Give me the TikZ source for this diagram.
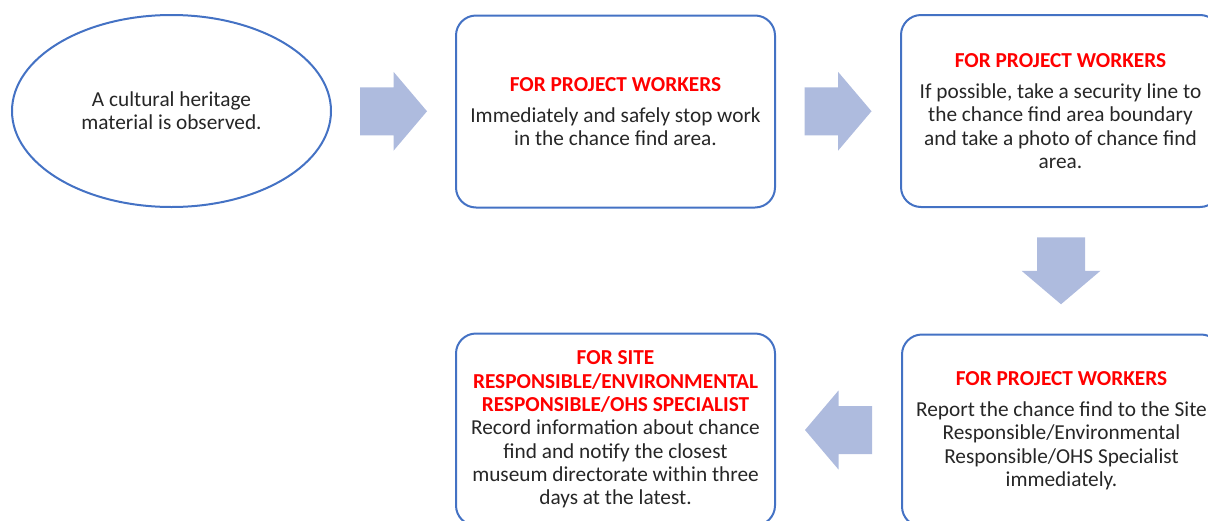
\documentclass[tikz,border=0pt]{standalone}
\usepackage{fontspec}
\setmainfont{Carlito}
\usetikzlibrary{shapes.geometric,calc}
\definecolor{edgeblue}{RGB}{68,114,196}
\definecolor{arrowfill}{RGB}{174,187,222}
\definecolor{headred}{RGB}{255,0,0}
\definecolor{bodytext}{RGB}{38,38,38}
\newcommand{\headtxt}[1]{\textcolor{headred}{\bfseries #1}}
\tikzset{
  basetext/.style={align=center, text=bodytext, font=\fontsize{21.3}{23.3}\selectfont, inner sep=0pt},
  stepbox/.style={basetext, draw=edgeblue, line width=2pt, rounded corners=20pt,
    minimum width=319pt, minimum height=192pt},
  startoval/.style={basetext, ellipse, draw=edgeblue, line width=2pt,
    minimum width=319pt, minimum height=192pt},
  blockarrow/.pic={\fill[arrowfill] (-33.5,-24) -- (0,-24) -- (0,-39.5) -- (33.5,0)
    -- (0,39.5) -- (0,24) -- (-33.5,24) -- cycle;}
}
\begin{document}
\begin{tikzpicture}[x=1pt,y=-1pt]
\useasboundingbox (0,0) rectangle (1208,520);
\clip (0,0) rectangle (1208,520);
\node[startoval] (start) at (171.5,111) {A cultural heritage\\material is observed.};
\node[stepbox] (stop) at (615.5,111.5) {\headtxt{FOR PROJECT WORKERS}\\[8pt]
  Immediately and safely stop work\\in the chance find area.};
\node[stepbox] (secure) at (1060.5,111) {\headtxt{FOR PROJECT WORKERS}\\[8pt]
  If possible, take a security line to\\the chance find area boundary\\and take a photo of chance find\\area.};
\node[stepbox] (report) at (1061.5,430.5) {\headtxt{FOR PROJECT WORKERS}\\[8pt]
  Report the chance find to the Site\\Responsible/Environmental\\Responsible/OHS Specialist\\immediately.};
\node[stepbox] (record) at (615.5,429.5) {\headtxt{FOR SITE}\\\headtxt{RESPONSIBLE/ENVIRONMENTAL}\\\headtxt{RESPONSIBLE/OHS SPECIALIST}\\
  Record information about chance\\find and notify the closest\\museum directorate within three\\days at the latest.};
\pic at ($(start.east)!0.5!(stop.west)$) {blockarrow};
\pic at ($(stop.east)!0.5!(secure.west)$) {blockarrow};
\pic[rotate=-90] at ($(secure.south)!0.5!(report.north)$) {blockarrow};
\pic[rotate=180] at ($(report.west)!0.5!(record.east)$) {blockarrow};
\end{tikzpicture}
\end{document}
